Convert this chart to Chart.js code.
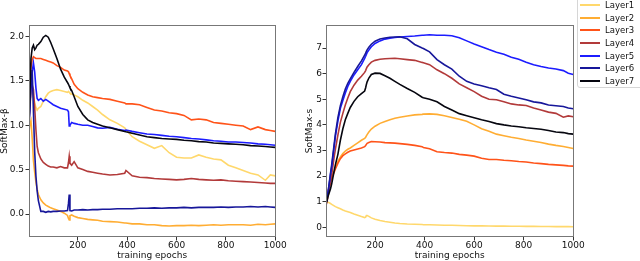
<!DOCTYPE html>
<html>
<head>
<meta charset="utf-8">
<script src="https://cdn.jsdelivr.net/npm/chart.js@4.4.1/dist/chart.umd.min.js"></script>
<style>
  body { margin: 0; background: #fff; }
  #wrap { position: relative; width: 640px; height: 261px; overflow: hidden; font-family: "DejaVu Sans", sans-serif; }
  #betaChart { position: absolute; left: 0; top: 0; }
  #sChart { position: absolute; left: 300px; top: 0; }
  #legend { position: absolute; left: 577px; top: -6px; width: 72px; height: 94px; border: 1px solid #d6d6d6; border-radius: 3px; background: rgba(255,255,255,0.85); box-sizing: border-box; }
  #legend div { position: absolute; left: 0; height: 12px; font-size: 8.5px; line-height: 12px; color: #111; white-space: nowrap; }
  #legend span.sw { position: absolute; left: 2px; top: 5px; width: 20px; height: 2px; }
  #legend span.tx { position: absolute; left: 27px; top: 0; }
</style>
</head>
<body>
<div id="wrap">
  <canvas id="betaChart" width="300" height="261"></canvas>
  <canvas id="sChart" width="340" height="261"></canvas>
  <div id="legend"></div>
</div>
<script>
// training epochs at which values were read
var epochs = [1,5,10,15,20,25,30,35,40,50,
  60,70,80,90,100,115,130,145,158,162,
  165,168,175,185,200,220,240,260,280,300,
  330,360,390,395,420,450,480,510,540,570,
  600,630,660,690,720,750,780,810,840,870,
  900,930,960,980,1000];

var layerNames = ['Layer1','Layer2','Layer3','Layer4','Layer5','Layer6','Layer7'];
var layerColors = ['#ffd86c','#ffad33','#ff5319','#b23a3a','#1c1cff','#17179a','#06060f'];

var xTicks = [200, 400, 600, 800, 1000];
var betaTicks = [0, 0.5, 1, 1.5, 2];
var sTicks = [0, 1, 2, 3, 4, 5, 6, 7];

// left panel: SoftMax-beta
var betaLayer1 = [0.95,1.15,1.35,1.38,1.32,1.25,1.2,1.17,1.19,1.21,
  1.27,1.32,1.36,1.38,1.39,1.4,1.39,1.38,1.37,1.38,
  1.37,1.36,1.35,1.34,1.32,1.28,1.25,1.21,1.17,1.12,
  1.06,1.02,0.97,0.95,0.87,0.82,0.78,0.74,0.77,0.69,
  0.64,0.63,0.63,0.665,0.64,0.62,0.61,0.55,0.52,0.49,
  0.46,0.44,0.38,0.44,0.43];
var betaLayer2 = [0.9,1.0,1.05,0.85,0.6,0.47,0.36,0.28,0.22,0.16,
  0.125,0.1,0.085,0.07,0.06,0.045,0.03,0.01,-0.015,-0.05,
  -0.065,-0.02,-0.01,-0.025,-0.04,-0.05,-0.06,-0.065,-0.07,-0.08,
  -0.085,-0.09,-0.1,-0.1,-0.11,-0.11,-0.12,-0.12,-0.13,-0.135,
  -0.13,-0.13,-0.125,-0.13,-0.125,-0.12,-0.125,-0.12,-0.12,-0.12,
  -0.125,-0.115,-0.12,-0.115,-0.11];
var betaLayer3 = [1.2,1.45,1.65,1.74,1.77,1.76,1.75,1.75,1.75,1.75,
  1.74,1.73,1.72,1.71,1.7,1.67,1.65,1.62,1.61,1.6,
  1.58,1.56,1.52,1.46,1.41,1.37,1.34,1.32,1.31,1.3,
  1.29,1.27,1.25,1.24,1.24,1.23,1.2,1.17,1.16,1.14,
  1.13,1.11,1.06,1.07,1.06,1.03,1.02,1.01,1.0,0.99,
  0.95,0.98,0.95,0.94,0.93];
var betaLayer4 = [1.0,1.2,1.42,1.45,1.4,1.2,0.95,0.76,0.69,0.62,
  0.58,0.56,0.54,0.53,0.53,0.52,0.535,0.52,0.52,0.58,
  0.65,0.57,0.55,0.59,0.52,0.5,0.48,0.47,0.46,0.45,
  0.44,0.445,0.46,0.49,0.43,0.415,0.41,0.4,0.395,0.39,
  0.385,0.39,0.4,0.39,0.385,0.38,0.385,0.375,0.37,0.365,
  0.36,0.355,0.35,0.345,0.345];
var betaLayer5 = [0.95,1.15,1.45,1.6,1.7,1.6,1.42,1.3,1.28,1.3,
  1.27,1.29,1.27,1.25,1.23,1.21,1.19,1.18,1.17,1.15,
  0.99,1.0,1.03,1.02,1.01,1.0,1.0,0.985,0.97,0.965,
  0.975,0.955,0.94,0.945,0.93,0.915,0.9,0.895,0.885,0.875,
  0.87,0.86,0.85,0.845,0.835,0.825,0.82,0.81,0.81,0.805,
  0.8,0.79,0.785,0.78,0.775];
var betaLayer6 = [0.95,1.2,1.45,1.62,1.15,0.7,0.43,0.26,0.15,0.03,
  0.03,0.02,0.03,0.025,0.03,0.03,0.035,0.035,0.04,0.12,
  0.22,0.04,0.035,0.045,0.045,0.05,0.045,0.05,0.05,0.055,
  0.055,0.06,0.06,0.06,0.06,0.065,0.065,0.07,0.065,0.07,
  0.07,0.075,0.07,0.075,0.075,0.075,0.08,0.075,0.08,0.08,
  0.085,0.08,0.085,0.08,0.075];
var betaLayer7 = [0.95,1.3,1.75,1.87,1.9,1.85,1.87,1.9,1.91,1.94,
  1.99,2.01,1.99,1.93,1.86,1.75,1.63,1.54,1.48,1.46,
  1.44,1.42,1.39,1.32,1.21,1.12,1.06,1.03,1.01,0.99,
  0.97,0.95,0.93,0.925,0.91,0.89,0.87,0.86,0.85,0.845,
  0.84,0.83,0.825,0.815,0.81,0.8,0.795,0.79,0.785,0.78,
  0.77,0.765,0.76,0.755,0.75];

// right panel: SoftMax-s
var sLayer1 = [1.0,1.0,0.98,0.96,0.93,0.9,0.87,0.84,0.81,0.77,
  0.73,0.68,0.64,0.61,0.58,0.52,0.47,0.42,0.38,0.4,
  0.46,0.46,0.43,0.37,0.32,0.27,0.23,0.2,0.17,0.15,
  0.13,0.12,0.11,0.105,0.1,0.09,0.085,0.08,0.07,0.065,
  0.06,0.06,0.055,0.05,0.05,0.045,0.045,0.04,0.04,0.035,
  0.035,0.03,0.03,0.03,0.025];
var sLayer2 = [0.95,1.1,1.35,1.6,1.8,1.95,2.1,2.2,2.35,2.58,
  2.75,2.88,2.98,3.05,3.1,3.2,3.3,3.4,3.47,3.52,
  3.57,3.62,3.72,3.84,3.95,4.06,4.13,4.2,4.26,4.3,
  4.35,4.39,4.41,4.42,4.43,4.41,4.36,4.29,4.22,4.14,
  4.0,3.85,3.75,3.64,3.58,3.52,3.47,3.41,3.36,3.31,
  3.25,3.2,3.16,3.12,3.08];
var sLayer3 = [0.95,1.1,1.35,1.6,1.78,1.92,2.05,2.15,2.28,2.5,
  2.68,2.8,2.87,2.93,2.98,3.02,3.06,3.1,3.15,3.2,
  3.24,3.28,3.31,3.35,3.34,3.33,3.31,3.3,3.29,3.27,
  3.24,3.2,3.15,3.12,3.07,2.95,2.92,2.9,2.85,2.82,
  2.78,2.7,2.65,2.65,2.62,2.6,2.57,2.55,2.51,2.49,
  2.46,2.44,2.42,2.4,2.39];
var sLayer4 = [0.85,0.95,1.2,1.5,1.75,2.05,2.4,2.75,3.05,3.6,
  4.1,4.45,4.78,5.05,5.3,5.55,5.75,5.9,6.05,6.12,
  6.2,6.26,6.35,6.45,6.52,6.56,6.58,6.59,6.6,6.58,
  6.55,6.52,6.44,6.43,6.35,6.15,6.0,5.82,5.6,5.45,
  5.3,5.12,5.0,4.98,4.9,4.82,4.78,4.76,4.66,4.58,
  4.5,4.45,4.3,4.35,4.32];
var sLayer5 = [0.95,1.05,1.35,1.7,2.05,2.35,2.75,3.15,3.55,4.15,
  4.65,4.95,5.25,5.5,5.7,5.95,6.15,6.35,6.6,6.68,
  6.75,6.82,6.92,7.05,7.18,7.28,7.35,7.38,7.41,7.43,
  7.45,7.47,7.5,7.5,7.52,7.5,7.5,7.48,7.4,7.28,
  7.16,7.05,6.94,6.84,6.76,6.64,6.56,6.45,6.35,6.28,
  6.22,6.18,6.12,6.02,5.97];
var sLayer6 = [0.95,1.05,1.35,1.72,2.1,2.45,2.85,3.25,3.65,4.28,
  4.75,5.1,5.4,5.62,5.8,6.05,6.28,6.5,6.72,6.8,
  6.87,6.93,7.03,7.15,7.27,7.35,7.39,7.42,7.43,7.44,
  7.36,7.14,7.0,6.98,6.85,6.55,6.35,6.18,5.9,5.7,
  5.6,5.53,5.45,5.38,5.2,5.12,5.05,4.98,4.9,4.86,
  4.78,4.75,4.72,4.66,4.63];
var sLayer7 = [0.95,1.0,1.2,1.35,1.5,1.7,1.95,2.2,2.45,2.85,
  3.4,3.85,4.2,4.45,4.68,4.92,5.1,5.22,5.32,5.45,
  5.58,5.68,5.83,5.97,6.02,6.01,5.92,5.82,5.7,5.58,
  5.42,5.27,5.08,5.06,5.0,4.9,4.72,4.58,4.44,4.36,
  4.28,4.2,4.13,4.05,4.0,3.96,3.93,3.89,3.86,3.83,
  3.78,3.72,3.7,3.66,3.64];

Chart.defaults.font.family = '"DejaVu Sans", sans-serif';
Chart.defaults.font.size = 9;
Chart.defaults.color = '#111';

// matplotlib style box round the plot area
var framePlugin = {
  id: 'frame',
  afterDatasetsDraw: function(chart) {
    var a = chart.chartArea, ctx = chart.ctx;
    ctx.save();
    ctx.strokeStyle = '#777';
    ctx.lineWidth = 1;
    ctx.strokeRect(Math.round(a.left) + 0.5, Math.round(a.top) + 0.5,
      Math.round(a.right - a.left) - 1, Math.round(a.bottom - a.top) - 1);
    ctx.restore();
  }
};

function makeDatasets(series) {
  return series.map(function(vals, i) {
    return {
      label: layerNames[i],
      data: vals.map(function(v, j) { return {x: epochs[j], y: v}; }),
      borderColor: layerColors[i],
      backgroundColor: layerColors[i],
      borderWidth: 1.6,
      pointRadius: 0,
      tension: 0,
      order: series.length - i
    };
  });
}

function makeChart(id, series, yTicks, yMin, yMax, yTitle, yWidth, rightPad, titlePad, tickPad, fmt) {
  return new Chart(document.getElementById(id), {
    type: 'line',
    data: { datasets: makeDatasets(series) },
    plugins: [framePlugin],
    options: {
      responsive: false,
      animation: false,
      devicePixelRatio: 1,
      layout: { padding: { top: 25, right: rightPad, bottom: 0, left: 0 } },
      plugins: { legend: { display: false }, tooltip: { enabled: false } },
      scales: {
        x: {
          type: 'linear',
          min: 2,
          max: 1001,
          afterBuildTicks: function(scale) { scale.ticks = xTicks.map(function(v) { return {value: v}; }); },
          afterFit: function(scale) { scale.height = 24; },
          grid: { drawOnChartArea: false, drawTicks: true, tickLength: 3.5, tickColor: '#333' },
          border: { display: false },
          ticks: { autoSkip: false, maxRotation: 0, padding: 0, color: '#111', font: { size: 9 },
            callback: function(v) { return String(v); } },
          title: { display: true, text: 'training epochs', padding: { top: 0, bottom: 0 }, font: { size: 9, lineHeight: 1.2 }, color: '#111' }
        },
        y: {
          type: 'linear',
          min: yMin,
          max: yMax,
          afterBuildTicks: function(scale) { scale.ticks = yTicks.map(function(v) { return {value: v}; }); },
          afterFit: function(scale) { scale.width = yWidth; },
          grid: { drawOnChartArea: false, drawTicks: true, tickLength: 3.5, tickColor: '#333' },
          border: { display: false },
          ticks: { autoSkip: false, padding: tickPad, color: '#111', font: { size: 9 }, callback: fmt },
          title: { display: true, text: yTitle, padding: { top: titlePad, bottom: 0 }, font: { size: 9, lineHeight: 1 }, color: '#111' }
        }
      }
    }
  });
}

makeChart('betaChart', [betaLayer1, betaLayer2, betaLayer3, betaLayer4, betaLayer5, betaLayer6, betaLayer7],
  betaTicks, -0.258, 2.127, 'SoftMax-\u03b2', 29, 24.5, 0, 1.5,
  function(v) { return Number(v).toFixed(1); });

makeChart('sChart', [sLayer1, sLayer2, sLayer3, sLayer4, sLayer5, sLayer6, sLayer7],
  sTicks, -0.376, 7.9, 'SoftMax-s', 26, 66.5, 5.5, 0.5,
  function(v) { return String(v); });

// legend box at the top right
var legend = document.getElementById('legend');
layerNames.forEach(function(name, i) {
  var row = document.createElement('div');
  row.style.top = (4 + i * 12.67) + 'px';
  row.style.width = '70px';
  var sw = document.createElement('span');
  sw.className = 'sw';
  sw.style.background = layerColors[i];
  var tx = document.createElement('span');
  tx.className = 'tx';
  tx.textContent = name;
  row.appendChild(sw);
  row.appendChild(tx);
  legend.appendChild(row);
});
</script>
</body>
</html>
